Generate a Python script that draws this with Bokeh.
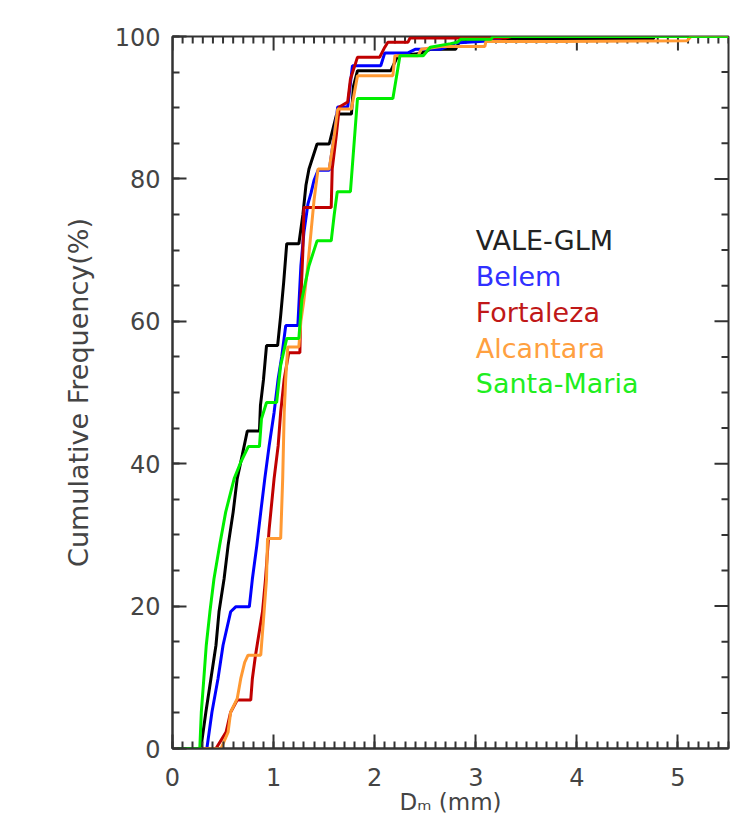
import numpy as np
from bokeh.plotting import figure
from bokeh.models import Range1d, LinearAxis, SingleIntervalTicker, Label
from bokeh.embed import file_html
from bokeh.resources import INLINE

# ---- data ----
series_names = ["VALE-GLM", "Belem", "Fortaleza", "Alcantara", "Santa-Maria"]
series_colors = ["#000000", "#0000ff", "#c00000", "#ff9933", "#00ee00"]
label_colors = ["#222222", "#3030ff", "#c01818", "#ffa040", "#20ee20"]

x_ticks = [0, 1, 2, 3, 4, 5]
y_ticks = [0, 20, 40, 60, 80, 100]

vale_d = [0.05, 0.28, 0.33, 0.38, 0.43, 0.46, 0.51, 0.55, 0.60, 0.64, 0.69, 0.74, 0.86,
          0.87, 0.90, 0.93, 1.04, 1.07, 1.10, 1.13, 1.25, 1.29, 1.32, 1.35, 1.43, 1.55,
          1.62, 1.65, 1.77, 1.79, 1.83, 2.16, 2.23, 2.45, 2.55, 2.80, 2.85, 4.75, 4.77, 5.5]
vale_cf = [0, 0, 5.1, 9.8, 14.5, 19.2, 23.8, 28.5, 33.2, 37.9, 41.2, 44.6, 44.6,
           48.2, 51.8, 56.6, 56.6, 60.8, 65.5, 70.9, 70.9, 75.0, 79.1, 81.4, 84.9, 84.9,
           88.9, 89.1, 89.1, 93.0, 95.2, 95.2, 97.3, 97.6, 98.2, 98.2, 99.6, 99.6, 100, 100]

belem_d = [0.05, 0.34, 0.39, 0.45, 0.50, 0.575, 0.625, 0.76, 0.79, 0.834, 0.873, 0.913,
           0.956, 1.005, 1.045, 1.08, 1.12, 1.24, 1.27, 1.30, 1.34, 1.37, 1.40, 1.44, 1.55,
           1.60, 1.634, 1.733, 1.78, 2.06, 2.10, 2.33, 2.40, 2.65, 2.80, 3.15, 3.30, 5.5]
belem_cf = [0, 0, 5.1, 9.8, 14.5, 19.2, 19.9, 19.9, 23.8, 28.5, 33.2, 37.9,
            42.5, 47.2, 51.9, 55.0, 59.4, 59.4, 67.8, 72.5, 76.5, 78.0, 79.8, 81.2, 81.2,
            86.1, 90.1, 90.1, 95.9, 95.9, 97.7, 97.7, 98.2, 98.2, 99.1, 99.4, 100, 100]

fortaleza_d = [0.05, 0.43, 0.53, 0.575, 0.64, 0.774, 0.79, 0.82, 0.89, 0.92, 0.956, 1.005,
               1.045, 1.07, 1.105, 1.15, 1.26, 1.27, 1.29, 1.30, 1.57, 1.58, 1.62, 1.65,
               1.733, 1.76, 1.83, 2.05, 2.10, 2.13, 2.33, 2.35, 3.30, 3.35, 5.5]
fortaleza_cf = [0, 0, 2.3, 5.1, 6.8, 6.8, 9.8, 13.0, 19.2, 23.8, 30.8, 37.9,
                42.5, 47.2, 51.9, 55.6, 55.6, 63.1, 70.0, 76.0, 76.0, 81.4, 86.1, 90.1,
                90.8, 94.0, 97.1, 97.1, 98.5, 99.2, 99.2, 99.8, 99.8, 100, 100]

alcantara_d = [0.05, 0.48, 0.55, 0.575, 0.64, 0.675, 0.714, 0.747, 0.873, 0.906, 0.93, 0.94,
               1.07, 1.09, 1.105, 1.12, 1.14, 1.25, 1.27, 1.30, 1.34, 1.37, 1.40, 1.44, 1.55,
               1.60, 1.634, 1.77, 1.83, 2.18, 2.20, 2.43, 2.46, 2.66, 3.09, 3.10, 3.83, 5.09,
               5.13, 5.5]
alcantara_cf = [0, 0, 2.3, 5.1, 7.0, 9.8, 12.1, 13.1, 13.1, 19.2, 23.8, 29.5,
                29.5, 37.9, 47.2, 51.9, 56.4, 56.4, 60.0, 63.0, 68.0, 72.5, 77.0, 81.4, 81.4,
                86.1, 89.8, 89.8, 94.5, 94.5, 97.3, 97.3, 98.2, 98.6, 98.6, 99.3, 99.3, 99.4,
                100, 100]

santamaria_d = [0.05, 0.27, 0.285, 0.31, 0.334, 0.37, 0.41, 0.466, 0.526, 0.61, 0.675, 0.75,
                0.86, 0.88, 0.93, 1.03, 1.07, 1.13, 1.25, 1.28, 1.35, 1.43, 1.57, 1.60, 1.63,
                1.76, 1.83, 2.18, 2.25, 2.48, 2.55, 2.75, 2.82, 2.85, 3.15, 3.17, 5.5]
santamaria_cf = [0, 0, 5.1, 9.8, 14.5, 19.2, 23.8, 28.5, 33.2, 37.9, 40.2, 42.4,
                 42.4, 46.3, 48.6, 48.6, 53.8, 57.6, 57.6, 63.1, 67.8, 71.3, 71.3, 75.0, 78.2,
                 78.2, 91.3, 91.3, 97.3, 97.3, 98.5, 99.0, 99.2, 99.6, 99.6, 100, 100]

series_d = [vale_d, belem_d, fortaleza_d, alcantara_d, santamaria_d]
series_cf = [vale_cf, belem_cf, fortaleza_cf, alcantara_cf, santamaria_cf]

FONT = "DejaVu Sans"
TXT = "#444444"
AX = "#333333"
X_MIN, X_MAX, Y_MIN, Y_MAX = 0, 5.5, 0, 100

p = figure(width=748, height=817, output_backend="svg", toolbar_location=None,
           x_range=Range1d(X_MIN, X_MAX), y_range=Range1d(Y_MIN, Y_MAX),
           x_axis_location=None, y_axis_location=None,
           min_border_left=172, min_border_right=20, min_border_top=36, min_border_bottom=60)
p.grid.visible = False
p.background_fill_color = "white"
p.border_fill_color = "white"
p.outline_line_color = AX
p.outline_line_width = 2


def style_axis(ax):
    ax.major_tick_in = 14
    ax.major_tick_out = 0
    ax.minor_tick_in = 7
    ax.minor_tick_out = 0
    ax.major_tick_line_color = AX
    ax.minor_tick_line_color = AX
    ax.major_tick_line_width = 2
    ax.minor_tick_line_width = 2
    ax.axis_line_color = AX
    ax.axis_line_width = 2
    ax.major_label_text_font = FONT
    ax.major_label_text_font_size = "24px"
    ax.major_label_text_color = TXT


xb = LinearAxis(ticker=SingleIntervalTicker(interval=1, num_minor_ticks=10))
style_axis(xb)
xb.major_label_standoff = 19
xb.axis_label = "D\u2098 (mm)"
xb.axis_label_text_font = FONT
xb.axis_label_text_font_size = "23px"
xb.axis_label_text_font_style = "normal"
xb.axis_label_text_color = TXT
xb.axis_label_standoff = 0
p.add_layout(xb, "below")

yl = LinearAxis(ticker=SingleIntervalTicker(interval=20, num_minor_ticks=4))
style_axis(yl)
yl.major_label_standoff = 12
yl.axis_label = "Cumulative Frequency(%)"
yl.axis_label_text_font = FONT
yl.axis_label_text_font_size = "27px"
yl.axis_label_text_font_style = "normal"
yl.axis_label_text_color = TXT
yl.axis_label_standoff = 18
p.add_layout(yl, "left")

# mirrored inward ticks on the top and right frame edges (clipped dashes)
x_major = np.array(x_ticks, dtype=float)
x_minor = np.round(np.arange(X_MIN, X_MAX + 1e-9, 0.1), 2)
x_minor = x_minor[~np.isin(x_minor, x_major)]
y_major = np.array(y_ticks, dtype=float)
y_minor = np.arange(Y_MIN, Y_MAX + 1e-9, 5.0)
y_minor = y_minor[~np.isin(y_minor, y_major)]

p.scatter(x_major, np.full(len(x_major), Y_MAX), marker="dash", angle=np.pi / 2,
          size=28, line_color=AX, line_width=2)
p.scatter(x_minor, np.full(len(x_minor), Y_MAX), marker="dash", angle=np.pi / 2,
          size=14, line_color=AX, line_width=2)
p.scatter(np.full(len(y_major), X_MAX), y_major, marker="dash",
          size=28, line_color=AX, line_width=2)
p.scatter(np.full(len(y_minor), X_MAX), y_minor, marker="dash",
          size=14, line_color=AX, line_width=2)

for d, cf, c in zip(series_d, series_cf, series_colors):
    p.line(d, cf, line_color=c, line_width=3)

# legend texts
for i, (name, c) in enumerate(zip(series_names, label_colors)):
    p.add_layout(Label(x=3.0, y=71.4 - 5.05 * i, text=name, text_font=FONT,
                       text_font_size="27px", text_color=c,
                       text_align="left", text_baseline="middle"))

open("out.html", "w").write(file_html(p, INLINE))
